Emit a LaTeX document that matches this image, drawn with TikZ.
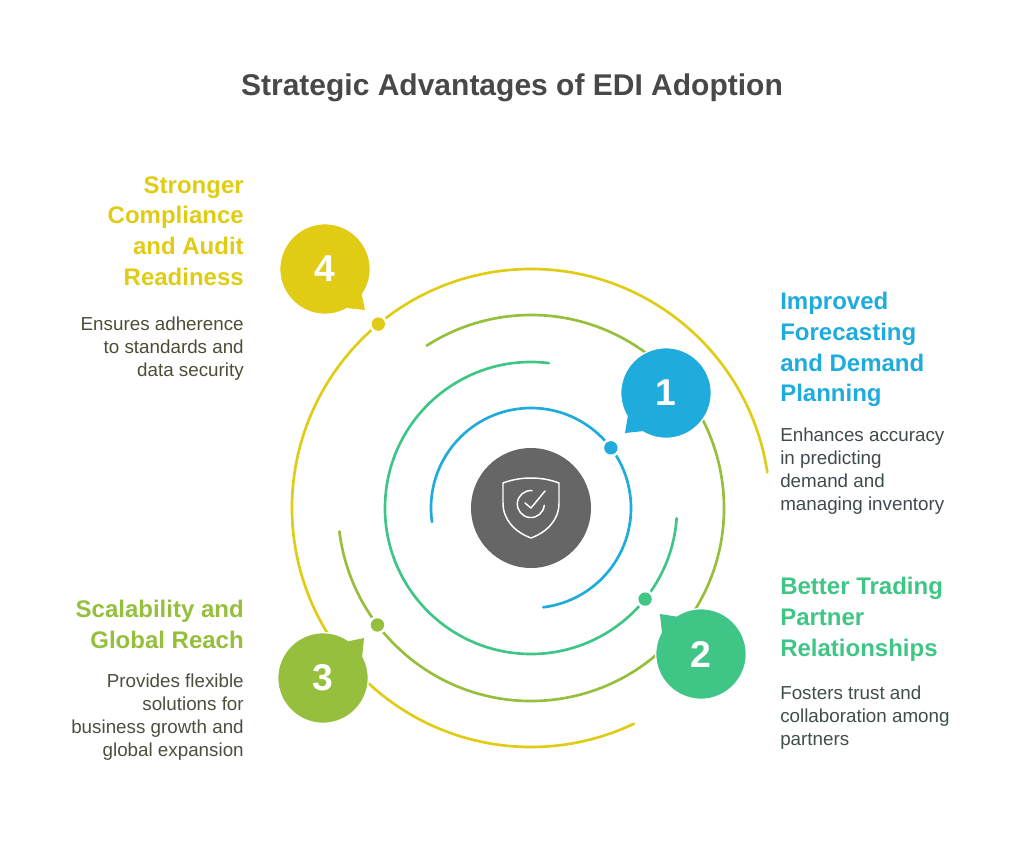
\documentclass[tikz,border=0pt]{standalone}
\usepackage{fontspec}
\setmainfont{Liberation Sans}
\definecolor{hubgray}{HTML}{666666}
\definecolor{titlegray}{HTML}{484848}
\definecolor{blueone}{HTML}{1FABDC}
\definecolor{greentwo}{HTML}{3FC686}
\definecolor{limethree}{HTML}{95BF3C}
\definecolor{yellowfour}{HTML}{E0CC14}
\definecolor{bodyblue}{HTML}{3F4A4F}
\definecolor{bodygreen}{HTML}{3F4F47}
\definecolor{bodylime}{HTML}{4A4F3F}
\definecolor{bodyyellow}{HTML}{4F4C35}
\tikzset{
  orbit/.style={line width=2pt, line cap=round},
  bubble/.style={circle, minimum size=68pt, inner sep=0pt, text=white, draw=white, line width=1pt, font=\fontsize{28}{28}\selectfont\bfseries},
  halo/.style={circle, fill=white, minimum size=14pt, inner sep=0pt},
  dot/.style={circle, minimum size=10pt, inner sep=0pt},
  head/.style={inner sep=0pt, font=\fontsize{18}{23.2}\selectfont\bfseries},
  body/.style={inner sep=0pt, font=\fontsize{14.1}{17.2}\selectfont},
  icon/.style={white, line width=1.1pt, line cap=round, line join=round},
}
\begin{document}
\begin{tikzpicture}[x=0.75pt, y=0.75pt]
	\useasboundingbox (0,-847) rectangle (1024,0);
	\node[font=\fontsize{22.5}{28}\selectfont\bfseries, text=titlegray] (title) at (512,-88) {Strategic Advantages of EDI Adoption};
	\node[circle, fill=hubgray, minimum size=90pt, inner sep=0pt] (hub) at (531,-508) {};
	% orbits
	\draw[orbit, yellowfour] ([shift={(8.6:239)}]hub.center) arc [start angle=8.6, end angle=295.5, radius=239];
	\draw[orbit, limethree] ([shift={(187:193)}]hub.center) arc [start angle=187, end angle=482.7, radius=193];
	\draw[orbit, greentwo] ([shift={(83:146)}]hub.center) arc [start angle=83, end angle=356, radius=146];
	\draw[orbit, blueone] ([shift={(188:100)}]hub.center) arc [start angle=188, end angle=-83, radius=100];
	% dots
	\node[halo] at ([shift={(37:100)}]hub.center) (h1) {};
	\node[dot, fill=blueone] (d1) at (h1) {};
	\node[halo] at ([shift={(-38.6:146)}]hub.center) (h2) {};
	\node[dot, fill=greentwo] (d2) at (h2) {};
	\node[halo] at ([shift={(217.3:193)}]hub.center) (h3) {};
	\node[dot, fill=limethree] (d3) at (h3) {};
	\node[halo] at ([shift={(129.7:239)}]hub.center) (h4) {};
	\node[dot, fill=yellowfour] (d4) at (h4) {};
	% bubbles
	\fill[blueone, draw=white, line width=1pt] (625,-433) -- (628,-417) -- (642,-431) -- cycle;
	\node[bubble, fill=blueone] (b1) at (666,-393) {1};
	\fill[blueone] (625,-433) -- (628,-415) -- (644,-431) -- cycle;
	\fill[greentwo, draw=white, line width=1pt] (660,-614) -- (677,-616) -- (662,-630) -- cycle;
	\node[bubble, fill=greentwo] (b2) at (701,-654) {2};
	\fill[greentwo] (660,-614) -- (679,-617) -- (662,-633) -- cycle;
	\fill[limethree, draw=white, line width=1pt] (364,-638) -- (347,-641) -- (361,-656) -- cycle;
	\node[bubble, fill=limethree] (b3) at (323,-678) {3};
	\fill[limethree] (364,-638) -- (345,-642) -- (362,-658) -- cycle;
	\fill[yellowfour, draw=white, line width=1pt] (365,-310) -- (362,-293) -- (349,-307) -- cycle;
	\node[bubble, fill=yellowfour] (b4) at (325,-269) {4};
	\fill[yellowfour] (365,-310) -- (361,-291) -- (347,-308) -- cycle;
	% shield
	\draw[icon] (531,-478) .. controls (520,-478) and (511,-480) .. (503,-483) -- (503,-503) .. controls (503,-520) and (515,-532) .. (531,-538) .. controls (547,-532) and (559,-520) .. (559,-503) -- (559,-483) .. controls (551,-480) and (542,-478) .. (531,-478) -- cycle;
	\draw[icon] (532,-490.6) arc [start angle=85, end angle=355, radius=13.5];
	\draw[icon] (525,-503) -- (531,-508) -- (545,-491);
	% texts
	\node[head, text=blueone, anchor=north west, align=left] (t1) at (780,-291.5) {Improved\\Forecasting\\and Demand\\Planning};
	\node[body, text=bodyblue, anchor=north west, align=left] (s1) at (780,-428) {Enhances accuracy\\in predicting\\demand and\\managing inventory};
	\node[head, text=greentwo, anchor=north west, align=left] (t2) at (780,-576.5) {Better Trading\\Partner\\Relationships};
	\node[body, text=bodygreen, anchor=north west, align=left] (s2) at (780,-686) {Fosters trust and\\collaboration among\\partners};
	\node[head, text=limethree, anchor=north east, align=right] (t3) at (244,-599.5) {Scalability and\\Global Reach};
	\node[body, text=bodylime, anchor=north east, align=right] (s3) at (244,-674) {Provides flexible\\solutions for\\business growth and\\global expansion};
	\node[head, text=yellowfour, anchor=north east, align=right] (t4) at (244,-176) {Stronger\\Compliance\\and Audit\\Readiness};
	\node[body, text=bodyyellow, anchor=north east, align=right] (s4) at (244,-317) {Ensures adherence\\to standards and\\data security};
\end{tikzpicture}
\end{document}
